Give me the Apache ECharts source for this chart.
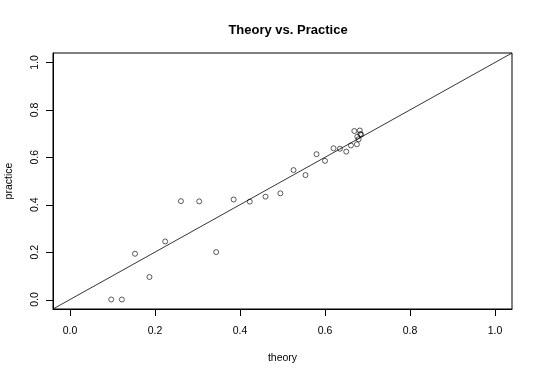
<!DOCTYPE html>
<html>
<head>
<meta charset="utf-8">
<script src="https://cdn.jsdelivr.net/npm/echarts@6/dist/echarts.min.js"></script>
<style>
  html, body { margin: 0; padding: 0; background: #fff; }
  #chart { width: 540px; height: 377px; }
</style>
</head>
<body>
<div id="chart"></div>
<script>
// values
const theory = [0.097, 0.122, 0.153, 0.187, 0.224, 0.261, 0.304, 0.344, 0.385, 0.423,
  0.460, 0.495, 0.526, 0.554, 0.580, 0.600, 0.620, 0.635, 0.650, 0.661,
  0.675, 0.669, 0.682, 0.676, 0.683, 0.679, 0.685];
const practice = [0.000, 0.000, 0.193, 0.095, 0.245, 0.415, 0.414, 0.200, 0.422, 0.413,
  0.434, 0.448, 0.546, 0.525, 0.613, 0.585, 0.638, 0.636, 0.624, 0.650,
  0.655, 0.711, 0.713, 0.687, 0.698, 0.676, 0.696];
const tickValues = [0, 0.2, 0.4, 0.6, 0.8, 1.0];
const axisRange = [-0.04, 1.04];   // R pads 0..1 by 4%
const refLine = [[-0.04, -0.04], [1.04, 1.04]];

const chart = echarts.init(document.getElementById("chart"));
const font = "Liberation Sans, Arial, sans-serif";
const TICK = 7;

const points = theory.map((t, i) => [t, practice[i]]);

const axisCommon = {
  type: "value",
  min: axisRange[0],
  max: axisRange[1],
  axisLine: { show: true, onZero: false, lineStyle: { color: "#000", width: 1 } },
  axisTick: { show: false },
  splitLine: { show: false },
  nameLocation: "middle",
  nameTextStyle: { fontFamily: font, fontSize: 10.5, color: "#000" },
};

const labelStyle = {
  customValues: tickValues,
  fontFamily: font,
  fontSize: 10.5,
  color: "#000",
  formatter: (v) => v.toFixed(1),
};

chart.setOption({
  animation: false,
  backgroundColor: "#fff",
  title: {
    text: "Theory vs. Practice",
    left: 283,
    textAlign: "center",
    top: 19,
    textStyle: { fontFamily: font, fontSize: 13, fontWeight: "bold", color: "#000" },
  },
  grid: {
    left: 53,
    right: 28,
    top: 53,
    bottom: 68,
    containLabel: false,
    outerBoundsMode: "none",
    show: true,
    borderColor: "#000",
    borderWidth: 1,
  },
  xAxis: {
    ...axisCommon,
    name: "theory",
    nameGap: 44,
    axisLabel: { ...labelStyle, margin: 17 },
  },
  yAxis: {
    ...axisCommon,
    name: "practice",
    nameGap: 38,
    axisLabel: { ...labelStyle, rotate: 90, margin: 12 },
  },
  series: [
    {
      type: "line",
      data: refLine,
      symbol: "none",
      lineStyle: { color: "#000", width: 0.8 },
      silent: true,
    },
    {
      type: "scatter",
      data: points,
      symbol: "circle",
      symbolSize: 5,
      itemStyle: { color: "rgba(0,0,0,0)", borderColor: "#000", borderWidth: 0.8 },
    },
  ],
});

// R style ticks outside the box at 0, 0.2, ... 1, placed with the chart's own scale
const tickLines = [];
tickValues.forEach((v) => {
  const px = chart.convertToPixel({ gridIndex: 0 }, [v, axisRange[0]]);
  const x = Math.round(px[0]) + 0.5;
  const y = Math.round(px[1]);
  tickLines.push({
    type: "line",
    silent: true,
    shape: { x1: x, y1: y, x2: x, y2: y + TICK },
    style: { stroke: "#000", lineWidth: 1 },
    z: 100,
  });
  const py = chart.convertToPixel({ gridIndex: 0 }, [axisRange[0], v]);
  const yy = Math.round(py[1]) + 0.5;
  const xx = Math.round(py[0]);
  tickLines.push({
    type: "line",
    silent: true,
    shape: { x1: xx - TICK, y1: yy, x2: xx, y2: yy },
    style: { stroke: "#000", lineWidth: 1 },
    z: 100,
  });
});
chart.setOption({ graphic: tickLines });
</script>
</body>
</html>
